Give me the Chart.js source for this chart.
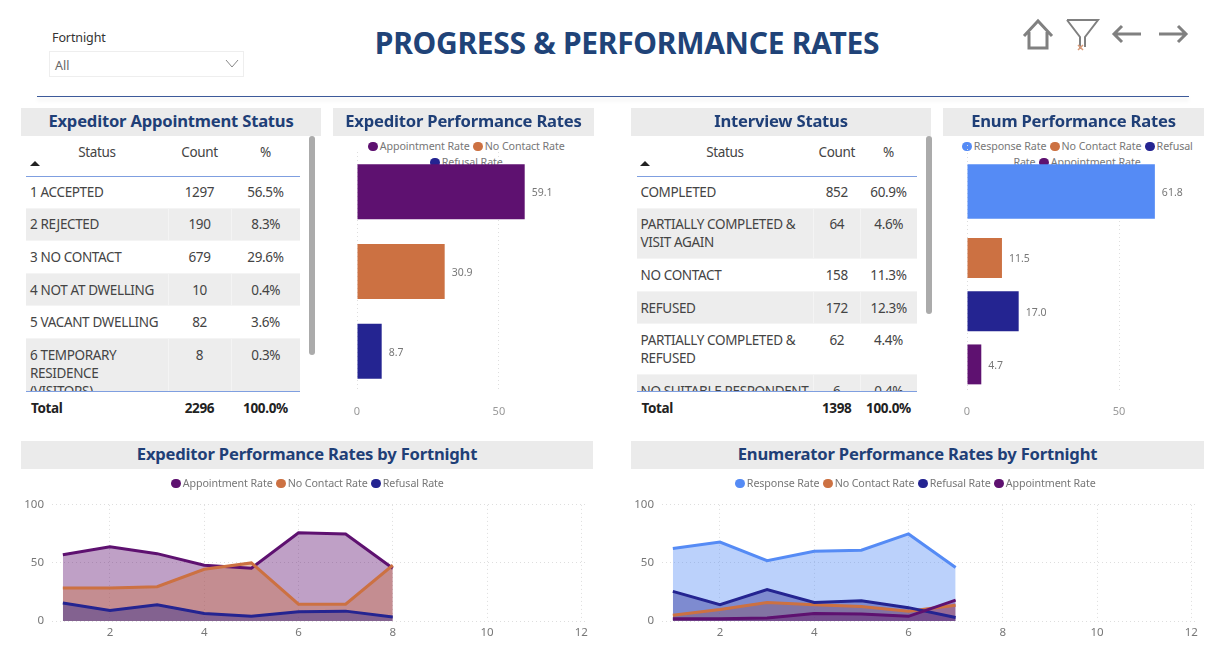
<!DOCTYPE html>
<html>
<head>
<meta charset="utf-8">
<title>Progress & Performance Rates</title>
<script src="https://cdn.jsdelivr.net/npm/chart.js@4/dist/chart.umd.min.js"></script>
<style>
html,body{margin:0;padding:0;background:#fff;width:1220px;height:664px;overflow:hidden;font-family:"Noto Sans",sans-serif;}
body{filter:blur(.35px);}
.abs,canvas{position:absolute;}
.band{position:absolute;background:#ebebeb;color:#1f3f77;font-weight:700;font-size:16.6px;line-height:25px;text-align:center;z-index:5;letter-spacing:-.2px;}
.legend{position:absolute;text-align:center;font-size:10.7px;line-height:16px;color:#777;z-index:1;letter-spacing:-.1px;}
.legend span{white-space:nowrap;}
.legend i{display:inline-block;width:9.5px;height:9.5px;border-radius:50%;margin:0 2px 0 1px;vertical-align:-1px;}
.tbl{position:absolute;overflow:hidden;z-index:2;}
table{border-collapse:collapse;table-layout:fixed;font-size:13.5px;line-height:18px;color:#444;letter-spacing:-.35px;}
td{padding:6.8px 4px;vertical-align:top;border-bottom:1px solid #f4f4f4;}
td.n{text-align:center;}
tr:nth-child(even) td{background:#ededed;border-left:1px solid #f4f4f4;}
tr:nth-child(even) td:first-child{border-left:0;}
.hd{position:absolute;font-size:13.5px;color:#444;letter-spacing:-.35px;text-align:center;transform:translateX(-50%);line-height:18px;}
.tot{position:absolute;font-size:13.5px;font-weight:700;color:#222;letter-spacing:-.35px;line-height:18px;}
.tot.c{transform:translateX(-50%);}
.arrow{position:absolute;width:0;height:0;border-left:5px solid transparent;border-right:5px solid transparent;border-bottom:5px solid #222;}
.rule{position:absolute;height:1.5px;background:#3d5a9a;box-shadow:0 3px 4px rgba(0,0,0,.14);}
.line{position:absolute;height:1px;background:#7f9fe0;z-index:3;}
.scroll{position:absolute;width:6px;background:#ababab;border-radius:3px;}
</style>
</head>
<body>
<div class="abs" style="left:52px;top:29px;font-size:12.5px;color:#333;letter-spacing:-.1px">Fortnight</div>
<div class="abs" style="left:49px;top:51px;width:193px;height:24px;border:1px solid #eee"></div>
<div class="abs" style="left:55px;top:57px;font-size:12.5px;color:#666">All</div>
<svg class="abs" style="left:224px;top:58px" width="16" height="12"><path d="M2 2l6 7 6-7" fill="none" stroke="#888" stroke-width="1"/></svg>
<div class="abs" style="left:365px;top:23px;width:524px;text-align:center;font-size:30px;line-height:40px;font-weight:700;color:#204378;white-space:nowrap;letter-spacing:-.3px">PROGRESS &amp; PERFORMANCE RATES</div>
<svg class="abs" style="left:1020px;top:16px" width="175" height="40" fill="none" stroke="#808080" stroke-width="3">
<path d="M4 20L18 5l14 15M9 16v16h18V16"/>
<path d="M47 4h31L65 21v10M47 4l13 17v12" stroke-width="2"/>
<path d="M58 29l5 5m0-5l-5 5" stroke="#d99a78" stroke-width="1.5"/>
<path d="M121 18H94m8-8l-8 8 8 8M139 18h27m-8-8l8 8-8 8"/>
</svg>
<div class="rule" style="left:37px;top:95.5px;width:1152px"></div>

<div id="bands"></div>
<div id="tables"></div>
<div id="legends"></div>

<canvas id="perfBar" style="left:327px;top:125px;width:269px;height:300px;z-index:2"></canvas>
<canvas id="enumBar" style="left:937px;top:120px;width:270px;height:305px;z-index:2;clip-path:inset(22px 0 0 0)"></canvas>
<canvas id="perfLine" style="left:20px;top:490px;width:580px;height:161px"></canvas>
<canvas id="enumLine" style="left:630px;top:490px;width:580px;height:161px"></canvas>

<script>
var purple = "#5e1170", orange = "#cc7142", navy = "#242491", blue = "#558bf5";

// tables
var apptStatus = ["1 ACCEPTED", "2 REJECTED", "3 NO CONTACT", "4 NOT AT DWELLING", "5 VACANT DWELLING", "6 TEMPORARY RESIDENCE (VISITORS)"];
var apptCount = [1297, 190, 679, 10, 82, 8];
var apptPct = ["56.5%", "8.3%", "29.6%", "0.4%", "3.6%", "0.3%"];
var intStatus = ["COMPLETED", "PARTIALLY COMPLETED & VISIT AGAIN", "NO CONTACT", "REFUSED", "PARTIALLY COMPLETED & REFUSED", "NO SUITABLE RESPONDENT"];
var intCount = [852, 64, 158, 172, 62, 6];
var intPct = ["60.9%", "4.6%", "11.3%", "12.3%", "4.4%", "0.4%"];

// bar charts
var expRateNames = ["Appointment Rate", "No Contact Rate", "Refusal Rate"];
var expRates = [59.1, 30.9, 8.7];
var enumRateNames = ["Response Rate", "No Contact Rate", "Refusal Rate", "Appointment Rate"];
var enumRates = [61.8, 11.5, 17.0, 4.7];

// fortnight charts
var expFortnights = [1, 2, 3, 4, 5, 6, 7, 8];
var expAppointment = [57, 64, 58, 48, 45.5, 76, 75, 45.5];
var expNoContact = [28.5, 28.5, 29.5, 44.5, 50, 14.5, 14.5, 48];
var expRefusal = [15.5, 9, 14, 6.5, 4, 8, 8.5, 3.5];
var enumFortnights = [1, 2, 3, 4, 5, 6, 7];
var enumResponse = [62.5, 68, 52, 60, 61, 75, 46];
var enumNoContact = [5, 10, 16, 14, 12.5, 8.5, 13.5];
var enumRefusal = [25.5, 14, 27, 16, 17.5, 11.5, 3];
var enumAppointment = [2, 2, 2.5, 6.5, 6, 4, 18];

var expColors = [purple, orange, navy];
var enumColors = [blue, orange, navy, purple];

function addBand(text, x, w, y) {
	var d = document.createElement("div");
	d.className = "band";
	d.style.cssText = "left:" + x + "px;top:" + y + "px;width:" + w + "px;height:28px";
	d.textContent = text;
	document.getElementById("bands").appendChild(d);
}
addBand("Expeditor Appointment Status", 21, 300, 108);
addBand("Expeditor Performance Rates", 333, 261, 108);
addBand("Interview Status", 631, 300, 108);
addBand("Enum Performance Rates", 943, 261, 108);
addBand("Expeditor Performance Rates by Fortnight", 21, 572, 441);
addBand("Enumerator Performance Rates by Fortnight", 631, 573, 441);

function addHtml(cls, css, text) {
	var d = document.createElement("div");
	d.className = cls;
	d.style.cssText = css;
	d.textContent = text;
	document.getElementById("tables").appendChild(d);
}

function addTable(x, w, col1, col2, status, count, pct, total, barBottom, statusX, arrowX) {
	var box = document.createElement("div");
	box.className = "tbl";
	box.style.cssText = "left:" + x + "px;top:176px;width:" + w + "px;height:215px";
	var t = document.createElement("table");
	t.style.width = w + "px";
	var html = "<colgroup><col style='width:" + col1 + "px'><col style='width:" + col2 + "px'><col></colgroup>";
	for (var i in status) {
		html += "<tr><td>" + status[i].replace("&", "&amp;") + "</td><td class='n'>" + count[i] + "</td><td class='n'>" + pct[i] + "</td></tr>";
	}
	t.innerHTML = html;
	box.appendChild(t);
	document.getElementById("tables").appendChild(box);

	var countX = x + col1 + col2 / 2;
	var pctX = x + col1 + col2 + (w - col1 - col2) / 2;
	addHtml("hd", "left:" + statusX + "px;top:143px", "Status");
	addHtml("hd", "left:" + countX + "px;top:143px", "Count");
	addHtml("hd", "left:" + pctX + "px;top:143px", "%");
	addHtml("arrow", "left:" + arrowX + "px;top:161px", "");
	addHtml("line", "left:" + x + "px;top:175.5px;width:" + w + "px", "");
	addHtml("line", "left:" + x + "px;top:391px;width:" + w + "px", "");
	addHtml("tot", "left:" + (x + 5) + "px;top:399px", "Total");
	addHtml("tot c", "left:" + countX + "px;top:399px", total);
	addHtml("tot c", "left:" + pctX + "px;top:399px", "100.0%");
	addHtml("scroll", "left:" + (x + w + 9) + "px;top:136px;height:" + (barBottom - 136) + "px", "");
}
addTable(26, 274, 142, 63, apptStatus, apptCount, apptPct, "2296", 355, 97, 30);
addTable(636.5, 280.5, 177, 46.5, intStatus, intCount, intPct, "1398", 314, 725, 640);

function addLegend(names, colors, x, w, y) {
	var d = document.createElement("div");
	d.className = "legend";
	d.style.cssText = "left:" + x + "px;top:" + y + "px;width:" + w + "px";
	var html = "";
	for (var i in names) {
		// the dot stays with the first word, the rest may wrap
		var cut = names[i].indexOf(" ");
		html += "<span><i style='background:" + colors[i] + "'></i>" + names[i].slice(0, cut) + "</span>" + names[i].slice(cut) + " ";
	}
	d.innerHTML = html;
	document.getElementById("legends").appendChild(d);
}
addLegend(expRateNames, expColors, 362, 208, 138);
addLegend(enumRateNames, enumColors, 960, 234, 138);
addLegend(expRateNames, expColors, 107, 400, 475);
addLegend(enumRateNames, enumColors, 715, 400, 475);

var barValueLabels = {
	id: "barValueLabels",
	afterDatasetsDraw: function(chart) {
		var ctx = chart.ctx;
		ctx.save();
		ctx.font = "10.5px 'Noto Sans'";
		ctx.fillStyle = "#777";
		ctx.textBaseline = "middle";
		chart.data.datasets.forEach(function(ds, d) {
			chart.getDatasetMeta(d).data.forEach(function(bar, i) {
				if (ds.data[i] != null) {
					ctx.fillText(ds.data[i].toFixed(1), bar.x + 7, bar.y + 1.5);
				}
			});
		});
		ctx.restore();
	}
};

var dotted = { color: "#dedede", lineWidth: 1, drawTicks: false };

function barXAxis(max) {
	return {
		type: "linear",
		min: 0,
		max: max,
		grid: dotted,
		border: { display: false, dash: [1, 3] },
		ticks: { stepSize: 50, includeBounds: false, padding: 14, color: "#999", font: { family: "Noto Sans", size: 11 } },
		afterFit: function(s) { s.height = 34; }
	};
}

new Chart(document.getElementById("perfBar"), {
	type: "bar",
	plugins: [barValueLabels],
	data: {
		labels: expRateNames,
		datasets: [{ data: expRates, backgroundColor: expColors, barPercentage: 0.69, categoryPercentage: 1 }]
	},
	options: {
		indexAxis: "y",
		responsive: false,
		animation: false,
		layout: { padding: { left: 30, top: 27, right: 12, bottom: 0 } },
		plugins: { legend: { display: false }, tooltip: { enabled: false } },
		scales: {
			x: barXAxis(80),
			y: { display: false, offset: true }
		}
	}
});

// the response bar sits on its own wider band, as it does in the report
new Chart(document.getElementById("enumBar"), {
	type: "bar",
	plugins: [barValueLabels],
	data: {
		datasets: [
			{ yAxisID: "yTop", grouped: false, data: [enumRates[0]], backgroundColor: blue, barPercentage: 0.41, categoryPercentage: 1 },
			{ yAxisID: "y", grouped: false, data: [null, null, enumRates[1], enumRates[2], enumRates[3]], backgroundColor: [blue, blue, orange, navy, purple], barPercentage: 0.75, categoryPercentage: 1 }
		]
	},
	options: {
		indexAxis: "y",
		responsive: false,
		animation: false,
		layout: { padding: { left: 30, top: 5, right: 12, bottom: 0 } },
		plugins: { legend: { display: false }, tooltip: { enabled: false } },
		scales: {
			x: barXAxis(75),
			y: { type: "category", display: false, offset: true, labels: ["", "", enumRateNames[1], enumRateNames[2], enumRateNames[3]] },
			yTop: { type: "category", display: false, offset: true, labels: [enumRateNames[0], ""] }
		}
	}
});

function points(xs, ys) {
	return ys.map(function(v, i) { return { x: xs[i], y: v }; });
}

function tint(hex) {
	return hex + "66";
}

function lineChart(id, xs, names, colors, series) {
	var datasets = [];
	for (var i in series) {
		datasets.push({
			label: names[i],
			data: points(xs, series[i]),
			borderColor: colors[i],
			backgroundColor: tint(colors[i]),
			borderWidth: 3,
			fill: "origin",
			tension: 0,
			pointRadius: 0,
			order: series.length - i
		});
	}
	new Chart(document.getElementById(id), {
		type: "line",
		data: { datasets: datasets },
		options: {
			responsive: false,
			animation: false,
			layout: { padding: { left: 0, top: 14, right: 14, bottom: 0 } },
			plugins: { legend: { display: false }, tooltip: { enabled: false }, filler: { drawTime: "beforeDatasetsDraw" } },
			scales: {
				x: {
					type: "linear",
					min: 0.77,
					max: 12.1,
					grid: dotted,
					border: { display: false, dash: [1, 3] },
					ticks: { stepSize: 2, includeBounds: false, maxRotation: 0, padding: 5, color: "#777", font: { family: "Noto Sans", size: 11.5 } },
					afterFit: function(s) { s.height = 30; }
				},
				y: {
					min: 0,
					max: 100,
					grid: dotted,
					border: { display: false, dash: [1, 3] },
					ticks: { stepSize: 50, padding: 8, color: "#777", font: { family: "Noto Sans", size: 11.5 } },
					afterFit: function(s) { s.width = 32; }
				}
			}
		}
	});
}

lineChart("perfLine", expFortnights, expRateNames, expColors, [expAppointment, expNoContact, expRefusal]);
lineChart("enumLine", enumFortnights, enumRateNames, enumColors, [enumResponse, enumNoContact, enumRefusal, enumAppointment]);
</script>
</body>
</html>
